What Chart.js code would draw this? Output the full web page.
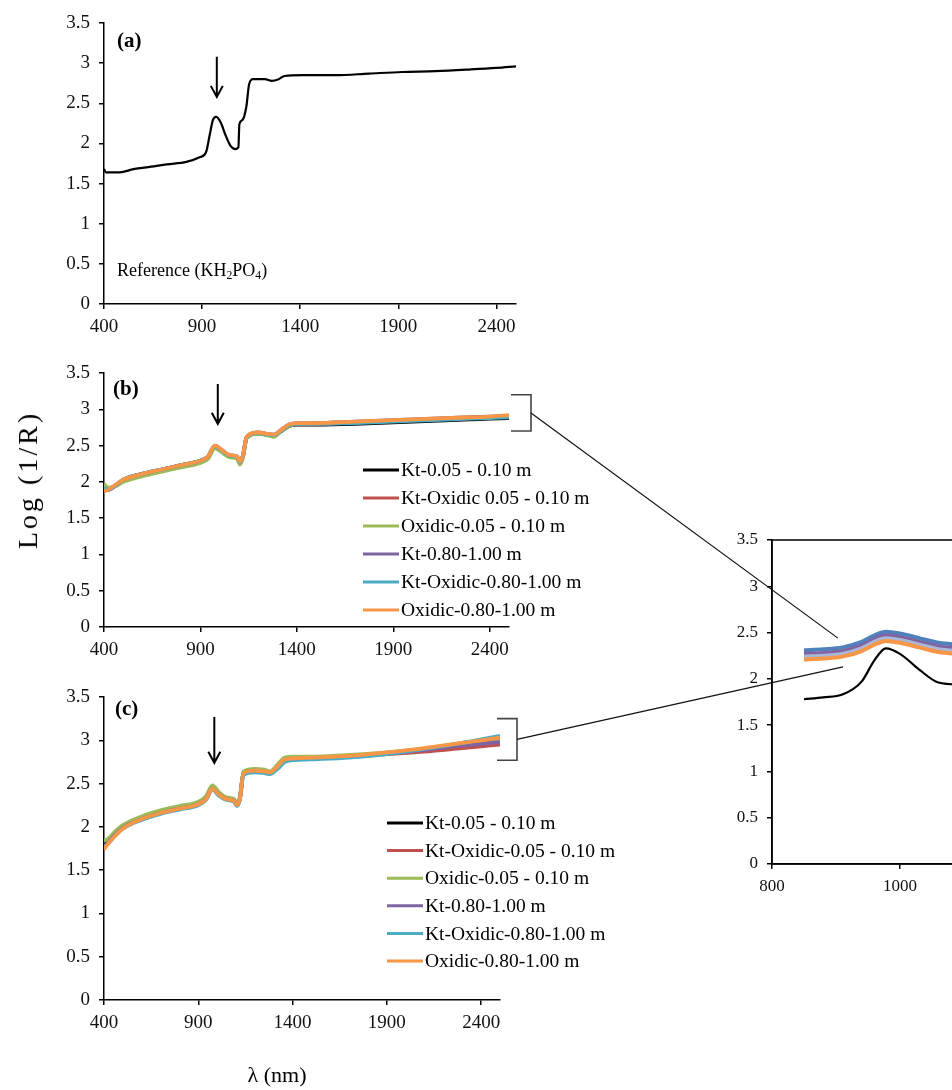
<!DOCTYPE html>
<html>
<head>
<meta charset="utf-8">
<script src="https://cdn.jsdelivr.net/npm/chart.js@4.4.1/dist/chart.umd.min.js"></script>
<style>
  body { margin: 0; background: #fff; }
  #page { position: relative; width: 952px; height: 1090px; overflow: hidden; font-family: "Liberation Serif", "Times New Roman", serif; color: #000; }
  canvas { position: absolute; top: 0; left: 0; }
  .txt { position: absolute; white-space: nowrap; line-height: 1; }
  .txt sub { font-size: 65%; vertical-align: -0.25em; line-height: 0; }
</style>
</head>
<body>
<div id="page">
  <canvas id="chartA" width="952" height="1090"></canvas>
  <canvas id="chartB" width="952" height="1090"></canvas>
  <canvas id="chartC" width="952" height="1090"></canvas>
  <canvas id="chartInset" width="400" height="440" style="left:700px;top:500px"></canvas>
  <canvas id="overlay" width="952" height="1090"></canvas>

  <div class="txt" style="left:117px;top:30px;font-size:21px;font-weight:bold">(a)</div>
  <div class="txt" style="left:113px;top:378px;font-size:21px;font-weight:bold">(b)</div>
  <div class="txt" style="left:115px;top:698px;font-size:21px;font-weight:bold">(c)</div>
  <div class="txt" style="left:117px;top:261px;font-size:18px">Reference (KH<sub>2</sub>PO<sub>4</sub>)</div>
  <div class="txt" style="left:28px;top:480px;font-size:28px;letter-spacing:3px;transform:translate(-50%,-50%) rotate(-90deg)">Log (1/R)</div>
  <div class="txt" style="left:277px;top:1075px;font-size:22px;transform:translate(-50%,-50%)">λ (nm)</div>
</div>
<script>
// x tick labels
const xTicksMain = [400, 900, 1400, 1900, 2400];
const xTicksInset = [800, 1000, 1200];

// (a) KH2PO4 reference spectrum
const refWl  = [400, 410, 480, 550, 640, 720, 820, 890, 920, 940, 955, 972, 995, 1020, 1045, 1070, 1085, 1090, 1105, 1125, 1140, 1160, 1220, 1255, 1290, 1320, 1410, 1580, 1750, 1920, 2090, 2260, 2400, 2500];
const refVal = [1.68, 1.64, 1.64, 1.68, 1.71, 1.74, 1.77, 1.83, 1.89, 2.12, 2.29, 2.33, 2.26, 2.10, 1.97, 1.93, 1.95, 2.24, 2.29, 2.45, 2.74, 2.80, 2.80, 2.78, 2.80, 2.84, 2.85, 2.85, 2.87, 2.89, 2.90, 2.92, 2.94, 2.96];

// (b) and (c) soil spectra, shared wavelengths
const specWl = [400, 420, 460, 500, 600, 700, 800, 900, 940, 975, 1010, 1050, 1090, 1105, 1120, 1140, 1200, 1250, 1280, 1320, 1360, 1400, 1500, 1700, 1900, 2100, 2300, 2400, 2500];

const seriesColors = ['#000000', '#c0504d', '#9bbb59', '#8064a2', '#4bacc6', '#f79646'];
const labelsB = ['Kt-0.05 - 0.10 m', 'Kt-Oxidic 0.05 - 0.10 m', 'Oxidic-0.05 - 0.10 m', 'Kt-0.80-1.00 m', 'Kt-Oxidic-0.80-1.00 m', 'Oxidic-0.80-1.00 m'];
const labelsC = ['Kt-0.05 - 0.10 m', 'Kt-Oxidic-0.05 - 0.10 m', 'Oxidic-0.05 - 0.10 m', 'Kt-0.80-1.00 m', 'Kt-Oxidic-0.80-1.00 m', 'Oxidic-0.80-1.00 m'];

const bKt05      = [1.93, 1.90, 1.95, 2.03, 2.11, 2.17, 2.23, 2.29, 2.35, 2.49, 2.43, 2.36, 2.34, 2.27, 2.35, 2.61, 2.67, 2.65, 2.64, 2.70, 2.77, 2.79, 2.79, 2.80, 2.82, 2.84, 2.86, 2.87, 2.88];
const bKtOx05    = [1.90, 1.89, 1.95, 2.02, 2.10, 2.16, 2.22, 2.28, 2.34, 2.49, 2.43, 2.36, 2.34, 2.27, 2.35, 2.61, 2.67, 2.65, 2.64, 2.71, 2.78, 2.80, 2.80, 2.82, 2.84, 2.86, 2.88, 2.89, 2.91];
const bOx05      = [1.97, 1.92, 1.94, 2.00, 2.08, 2.14, 2.20, 2.26, 2.32, 2.46, 2.41, 2.34, 2.32, 2.24, 2.33, 2.60, 2.66, 2.64, 2.62, 2.70, 2.77, 2.80, 2.81, 2.82, 2.84, 2.86, 2.88, 2.89, 2.90];
const bKt80      = [1.89, 1.89, 1.95, 2.03, 2.11, 2.17, 2.23, 2.29, 2.35, 2.50, 2.44, 2.37, 2.35, 2.28, 2.36, 2.62, 2.68, 2.66, 2.65, 2.72, 2.79, 2.81, 2.81, 2.83, 2.85, 2.87, 2.89, 2.90, 2.91];
const bKtOx80    = [1.90, 1.90, 1.95, 2.03, 2.11, 2.17, 2.23, 2.29, 2.35, 2.49, 2.43, 2.36, 2.34, 2.27, 2.35, 2.61, 2.67, 2.65, 2.64, 2.71, 2.78, 2.80, 2.80, 2.81, 2.83, 2.85, 2.87, 2.88, 2.89];
const bOx80      = [1.87, 1.89, 1.96, 2.03, 2.11, 2.17, 2.23, 2.29, 2.35, 2.50, 2.44, 2.37, 2.35, 2.28, 2.36, 2.62, 2.68, 2.66, 2.65, 2.72, 2.79, 2.81, 2.81, 2.83, 2.85, 2.87, 2.89, 2.90, 2.92];

const cKt05      = [1.78, 1.82, 1.92, 2.00, 2.10, 2.17, 2.22, 2.27, 2.33, 2.45, 2.38, 2.33, 2.30, 2.25, 2.32, 2.62, 2.65, 2.64, 2.62, 2.69, 2.77, 2.78, 2.79, 2.81, 2.85, 2.89, 2.94, 2.96, 2.98];
const cKtOx05    = [1.77, 1.81, 1.91, 1.99, 2.09, 2.16, 2.21, 2.26, 2.32, 2.44, 2.37, 2.32, 2.30, 2.25, 2.32, 2.62, 2.65, 2.64, 2.62, 2.69, 2.77, 2.78, 2.79, 2.81, 2.84, 2.87, 2.91, 2.93, 2.95];
const cOx05      = [1.84, 1.86, 1.95, 2.02, 2.12, 2.19, 2.24, 2.29, 2.35, 2.48, 2.40, 2.34, 2.32, 2.27, 2.34, 2.64, 2.67, 2.66, 2.64, 2.72, 2.80, 2.81, 2.81, 2.83, 2.86, 2.90, 2.95, 2.98, 3.00];
const cKt80      = [1.76, 1.81, 1.91, 1.99, 2.09, 2.16, 2.21, 2.26, 2.32, 2.44, 2.37, 2.32, 2.30, 2.25, 2.32, 2.62, 2.65, 2.63, 2.62, 2.69, 2.77, 2.78, 2.79, 2.81, 2.85, 2.89, 2.94, 2.96, 2.98];
const cKtOx80    = [1.76, 1.80, 1.90, 1.98, 2.08, 2.15, 2.20, 2.25, 2.31, 2.43, 2.36, 2.31, 2.29, 2.24, 2.31, 2.60, 2.63, 2.62, 2.61, 2.67, 2.75, 2.77, 2.78, 2.80, 2.84, 2.90, 2.97, 3.01, 3.05];
const cOx80      = [1.74, 1.80, 1.90, 1.98, 2.09, 2.16, 2.21, 2.26, 2.32, 2.44, 2.37, 2.32, 2.30, 2.25, 2.32, 2.62, 2.65, 2.64, 2.63, 2.70, 2.78, 2.79, 2.80, 2.82, 2.86, 2.91, 2.97, 3.00, 3.03];

// inset: 850-1150 nm close-up
const insetWl     = [850, 880, 910, 940, 960, 978, 1000, 1030, 1060, 1090, 1120, 1150];
const insetRef    = [1.78, 1.80, 1.83, 1.97, 2.20, 2.33, 2.27, 2.10, 1.96, 1.94, 2.27, 2.60];
const insetBlue   = [2.31, 2.32, 2.34, 2.40, 2.47, 2.51, 2.49, 2.44, 2.39, 2.37, 2.36, 2.40];
const insetPurple = [2.27, 2.28, 2.30, 2.36, 2.43, 2.47, 2.45, 2.40, 2.35, 2.33, 2.32, 2.36];
const insetLight  = [2.24, 2.25, 2.27, 2.33, 2.40, 2.44, 2.42, 2.37, 2.32, 2.30, 2.29, 2.33];
const insetOrange = [2.21, 2.22, 2.24, 2.30, 2.37, 2.41, 2.39, 2.34, 2.29, 2.27, 2.26, 2.30];

const serif = '"Liberation Serif", "Times New Roman", serif';

const pts = (xs, ys) => xs.map((x, i) => ({ x: x, y: ys[i] }));

// arrow over the ~975 nm peak
const arrowMark = {
  id: 'arrowMark',
  afterDatasetsDraw(chart, args, o) {
    if (!o || o.x == null) return;
    const ctx = chart.ctx;
    const px = chart.scales.x.getPixelForValue(o.x);
    const y0 = chart.scales.y.getPixelForValue(o.from);
    const y1 = chart.scales.y.getPixelForValue(o.to);
    ctx.save();
    ctx.strokeStyle = '#000';
    ctx.lineWidth = 2;
    ctx.beginPath();
    ctx.moveTo(px, y0); ctx.lineTo(px, y1);
    ctx.moveTo(px - 6, y1 - 11); ctx.lineTo(px, y1); ctx.lineTo(px + 6, y1 - 11);
    ctx.stroke();
    ctx.restore();
  }
};

// legend drawn inside the plot area
const boxLegend = {
  id: 'boxLegend',
  afterDraw(chart, args, o) {
    if (!o || o.dx == null) return;
    const ctx = chart.ctx, area = chart.chartArea;
    ctx.save();
    ctx.font = o.size + 'px ' + serif;
    ctx.textBaseline = 'middle';
    chart.data.datasets.forEach((d, i) => {
      const x = area.left + o.dx, y = area.top + o.dy + i * o.step;
      ctx.strokeStyle = d.borderColor;
      ctx.lineWidth = 3;
      ctx.beginPath(); ctx.moveTo(x, y); ctx.lineTo(x + o.len, y); ctx.stroke();
      ctx.fillStyle = '#000';
      ctx.fillText(d.label, x + o.len + 2, y + 1);
    });
    ctx.restore();
  }
};

const frame = {
  id: 'frame',
  afterDraw(chart, args, o) {
    if (!o || !o.on) return;
    const a = chart.chartArea;
    chart.ctx.save();
    chart.ctx.strokeStyle = '#000';
    chart.ctx.lineWidth = 1.5;
    chart.ctx.strokeRect(a.left, a.top, a.right - a.left, a.bottom - a.top);
    chart.ctx.restore();
  }
};

Chart.register(arrowMark, boxLegend, frame);

function xAxis(min, max, ticks, size, h) {
  return {
    type: 'linear', min: min, max: max,
    afterBuildTicks: s => { s.ticks = ticks.map(v => ({ value: v })); },
    afterFit: s => { s.height = h; },
    grid: { display: true, drawOnChartArea: false, drawTicks: true, tickLength: 5, color: '#000', lineWidth: 1.5 },
    border: { display: true, color: '#000', width: 1.5 },
    ticks: { color: '#111', font: { family: serif, size: size }, padding: 7, maxRotation: 0, autoSkip: false, callback: v => String(v) }
  };
}

function yAxis(size, w) {
  return {
    min: 0, max: 3.5,
    afterFit: s => { s.width = w; },
    grid: { display: true, drawOnChartArea: false, drawTicks: true, tickLength: 5, color: '#000', lineWidth: 1.5 },
    border: { display: true, color: '#000', width: 1.5 },
    ticks: { stepSize: 0.5, color: '#111', font: { family: serif, size: size }, padding: 9, callback: v => String(v) }
  };
}

// plot box in canvas pixels -> layout padding
function pad(box, cw, ch, yw, xh) {
  return { left: box.left - yw, top: box.top, right: cw - box.right, bottom: ch - box.bottom - xh };
}

function spectraChart(id, box, datasets, arrow, legend) {
  return new Chart(document.getElementById(id), {
    type: 'line',
    data: { datasets: datasets },
    options: {
      responsive: false,
      animation: false,
      events: [],
      layout: { padding: pad(box, 952, 1090, 50, 40) },
      elements: { point: { radius: 0 }, line: { cubicInterpolationMode: 'monotone' } },
      scales: { x: xAxis(400, 2500, xTicksMain, 19, 40), y: yAxis(19, 50) },
      plugins: { legend: { display: false }, tooltip: { enabled: false }, arrowMark: arrow, boxLegend: legend || {} }
    }
  });
}

const chartA = spectraChart('chartA', { left: 104, right: 516, top: 23, bottom: 304 }, [
  { label: 'Reference (KH2PO4)', data: pts(refWl, refVal), borderColor: '#000', borderWidth: 2.2 }
], { x: 975, from: 3.08, to: 2.58 });

function soilSets(labels, series) {
  return series.map((vals, i) => ({
    label: labels[i],
    data: pts(specWl, vals),
    borderColor: seriesColors[i],
    borderWidth: 3.8,
    order: series.length - i
  }));
}

const chartB = spectraChart('chartB', { left: 104, right: 509, top: 373, bottom: 627 },
  soilSets(labelsB, [bKt05, bKtOx05, bOx05, bKt80, bKtOx80, bOx80]),
  { x: 990, from: 3.35, to: 2.80 },
  { dx: 259, dy: 97, step: 28, len: 36, size: 19.5 });

const chartC = spectraChart('chartC', { left: 104, right: 500, top: 697, bottom: 1000 },
  soilSets(labelsC, [cKt05, cKtOx05, cOx05, cKt80, cKtOx80, cOx80]),
  { x: 985, from: 3.27, to: 2.74 },
  { dx: 283, dy: 126, step: 27.6, len: 36, size: 19.5 });

const insetBand = [insetBlue, insetPurple, insetLight, insetOrange];
const insetBandColors = ['#4f81bd', '#8064a2', '#a9b8d8', '#f79646'];

const chartInset = new Chart(document.getElementById('chartInset'), {
  type: 'line',
  data: {
    datasets: insetBand.map((vals, i) => ({
      label: 'band' + i, data: pts(insetWl, vals), borderColor: insetBandColors[i], borderWidth: 4, order: 5 - i
    })).concat([{ label: 'Reference (KH2PO4)', data: pts(insetWl, insetRef), borderColor: '#000', borderWidth: 2.2, order: 0 }])
  },
  options: {
    responsive: false,
    animation: false,
    events: [],
    layout: { padding: pad({ left: 72, right: 328, top: 40, bottom: 364 }, 400, 440, 40, 36) },
    elements: { point: { radius: 0 }, line: { cubicInterpolationMode: 'monotone' } },
    scales: { x: xAxis(800, 1200, xTicksInset, 17, 36), y: yAxis(17, 40) },
    plugins: { legend: { display: false }, tooltip: { enabled: false }, frame: { on: true } }
  }
});

// brackets on (b)/(c) and leader lines to the inset
function drawOverlay() {
  const ctx = document.getElementById('overlay').getContext('2d');
  const links = [
    { chart: chartB, shift: 2, top: 3.2, bottom: 2.7, to: [903, 2.44] },
    { chart: chartC, shift: -3, top: 3.25, bottom: 2.77, to: [911, 2.13] }
  ];
  links.forEach(l => {
    const xs = l.chart.scales.x, ys = l.chart.scales.y;
    const x0 = xs.getPixelForValue(2500) + l.shift, x1 = x0 + 20;
    const yt = ys.getPixelForValue(l.top), yb = ys.getPixelForValue(l.bottom);
    ctx.strokeStyle = '#444';
    ctx.lineWidth = 1.6;
    ctx.beginPath();
    ctx.moveTo(x0, yt); ctx.lineTo(x1, yt); ctx.lineTo(x1, yb); ctx.lineTo(x0, yb);
    ctx.stroke();
    const tx = chartInset.scales.x.getPixelForValue(l.to[0]) + 700;
    const ty = chartInset.scales.y.getPixelForValue(l.to[1]) + 500;
    ctx.strokeStyle = '#111';
    ctx.lineWidth = 1.2;
    ctx.beginPath();
    ctx.moveTo(x1, (yt + yb) / 2); ctx.lineTo(tx, ty);
    ctx.stroke();
  });
}
drawOverlay();
</script>
</body>
</html>
